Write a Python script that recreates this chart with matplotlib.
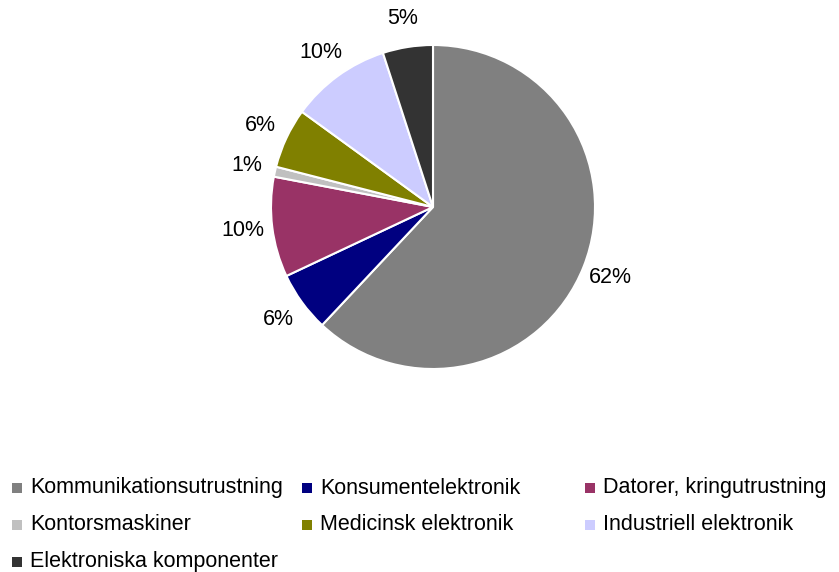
import matplotlib.pyplot as plt
from matplotlib.patches import Rectangle

plt.rcParams['font.family'] = ['Liberation Sans', 'DejaVu Sans']

# andelar per segment, medurs från klockan 12
categories = ['Kommunikationsutrustning', 'Konsumentelektronik', 'Datorer, kringutrustning',
              'Kontorsmaskiner', 'Medicinsk elektronik', 'Industriell elektronik',
              'Elektroniska komponenter']
values = [62, 6, 10, 1, 6, 10, 5]
colors = ['#808080', '#000080', '#993366', '#C0C0C0', '#808000', '#CCCCFF', '#333333']

W, H = 839, 572
fig = plt.figure(figsize=(W / 100, H / 100), dpi=100)

# pajen: centrum (433, 207) px, radie 162 px
cx, cy, R = 433, 207, 162
ax = fig.add_axes([(cx - R) / W, (H - cy - R) / H, 2 * R / W, 2 * R / H])
ax.pie(values, colors=colors, startangle=90, counterclock=False,
       autopct='%.0f%%', pctdistance=1.18,
       wedgeprops=dict(edgecolor='white', linewidth=1.5),
       textprops=dict(fontsize=15.5, color='black'))
ax.set_xlim(-1, 1)
ax.set_ylim(-1, 1)

# legend i tre kolumner, radvis
col_x = [12, 302, 585]
row_y = [488, 525, 562]
sq = 10
for i, (name, c) in enumerate(zip(categories, colors)):
    x = col_x[i % 3]
    y = row_y[i // 3]
    fig.add_artist(Rectangle((x / W, (H - y - sq / 2) / H), sq / W, sq / H,
                             transform=fig.transFigure, facecolor=c, edgecolor='none'))
    fig.text((x + 18) / W, (H - y) / H, name, fontsize=15.5, va='center', ha='left')

fig.savefig('out.png', dpi=100)
